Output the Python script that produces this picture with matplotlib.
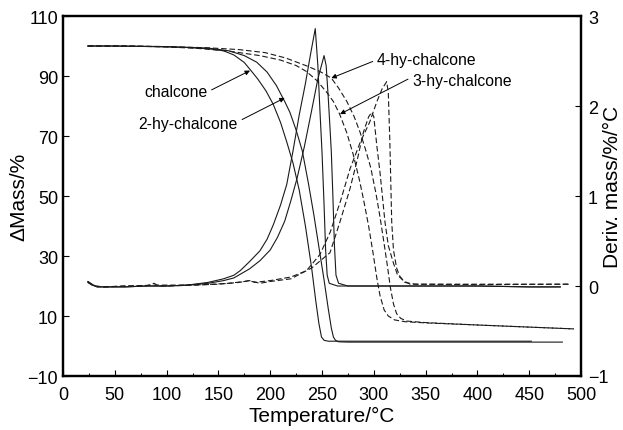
#!/usr/bin/env python3
"""
TGA / DTG curves of chalcone and hydroxy-chalcones.

Left axis: mass loss (%), right axis: derivative mass (%/°C).
"""

import matplotlib.pyplot as plt
from matplotlib.ticker import MultipleLocator

OUTPUT_PATH = "out.png"

# --- data -------------------------------------------------------------------

# chalcone (solid)
CHAL_MASS_T = [24, 40, 70, 100, 120, 140, 155, 165, 175, 181, 188, 196, 203, 210, 216,
               222, 228, 234, 240, 244, 247, 249.5, 252, 256, 270, 300, 350, 400, 452]
CHAL_MASS = [100, 100, 99.9, 99.7, 99.5, 99.1, 98.4, 97.0, 94.5, 92.0, 89.0, 85.0, 80.5,
             74.5, 68.0, 61.0, 52.0, 40.0, 26.0, 15.0, 7.5, 3.0, 1.9, 1.6, 1.6, 1.6, 1.6, 1.6, 1.6]
CHAL_DERIV_T = [24, 28, 33, 40, 60, 80, 100, 120, 140, 155, 165, 171, 180, 190, 197, 203,
                210, 216, 222, 228, 234, 239, 243.5, 246, 248, 250, 252, 253.5, 255, 257,
                265, 300, 350, 400, 450, 480]
CHAL_DERIV = [0.05, 0.02, -0.01, -0.01, -0.01, 0.0, 0.0, 0.01, 0.04, 0.08, 0.12, 0.17, 0.27,
              0.39, 0.52, 0.68, 0.90, 1.13, 1.50, 1.90, 2.25, 2.58, 2.86, 2.45, 1.95, 1.49,
              0.90, 0.40, 0.12, 0.03, 0.0, 0.0, 0.0, 0.0, -0.01, -0.01]

# 2-hy-chalcone (solid)
HY2_MASS_T = [24, 50, 100, 140, 160, 175, 187, 197, 206, 214, 219, 225, 231, 237, 242, 247,
              252, 256, 259, 261, 263, 266, 275, 300, 350, 400, 482]
HY2_MASS = [100, 100, 99.8, 99.3, 98.4, 96.8, 94.6, 91.3, 86.8, 81.5, 77.9, 72.0, 65.0, 54.0,
            44.0, 33.0, 22.0, 12.5, 6.0, 3.0, 1.9, 1.4, 1.3, 1.3, 1.3, 1.3, 1.3]
HY2_DERIV_T = [24, 28, 33, 40, 60, 80, 100, 120, 140, 155, 165, 171, 180, 190, 200, 207, 214,
               220, 226, 233, 240, 246, 252, 254, 256, 258, 259, 260.5, 262, 263.5, 266, 275,
               300, 350, 400, 450, 480]
HY2_DERIV = [0.04, 0.01, -0.01, -0.01, -0.01, 0.0, 0.0, 0.01, 0.03, 0.06, 0.09, 0.13, 0.19,
             0.28, 0.40, 0.54, 0.72, 0.95, 1.20, 1.55, 1.95, 2.30, 2.56, 2.45, 2.10, 1.70, 1.49,
             1.00, 0.45, 0.12, 0.03, 0.0, 0.0, 0.0, 0.0, -0.01, -0.01]

# 4-hy-chalcone (dashed)
HY4_MASS_T = [24, 60, 100, 140, 170, 195, 215, 235, 248, 259, 266, 274, 281, 287, 292, 297,
              302, 306, 310, 313, 316, 319, 322, 326, 332, 350, 400, 450, 493]
HY4_MASS = [100, 100, 99.8, 99.4, 98.8, 97.8, 96.0, 93.4, 91.5, 89.3, 86.0, 81.5, 76.5, 71.0,
            65.5, 59.5, 51.0, 43.0, 34.0, 27.0, 19.5, 14.0, 10.8, 9.2, 8.3, 7.8, 7.0, 6.3, 5.7]
HY4_DERIV_T = [24, 30, 40, 60, 80, 88, 92, 100, 130, 160, 175, 180, 185, 200, 220, 235, 248,
               258, 268, 277, 287, 296, 303, 308, 312.4, 314, 315.5, 317.3, 319, 322, 325, 330,
               340, 400, 489]
HY4_DERIV = [0.05, 0.0, -0.01, 0.0, 0.0, 0.03, 0.0, 0.0, 0.01, 0.03, 0.05, 0.06, 0.04, 0.06,
             0.10, 0.17, 0.35, 0.60, 0.95, 1.30, 1.60, 1.82, 2.05, 2.19, 2.27, 2.15, 1.60, 0.71,
             0.40, 0.20, 0.11, 0.04, 0.02, 0.015, 0.02]

# 3-hy-chalcone (dashed)
HY3_MASS_T = [24, 60, 100, 130, 160, 190, 210, 225, 235, 245, 254.5, 261, 267, 274, 280, 286,
              290, 295, 299.5, 303, 306, 310, 314, 320, 330, 350, 400, 450, 493]
HY3_MASS = [100, 100, 99.7, 99.2, 98.3, 96.8, 95.3, 93.5, 91.5, 88.5, 84.6, 81.5, 77.3, 71.0,
            64.0, 55.5, 49.0, 40.0, 30.5, 22.5, 16.8, 12.0, 10.0, 8.7, 8.1, 7.7, 7.0, 6.3, 5.7]
HY3_DERIV_T = [24, 30, 40, 60, 90, 120, 150, 170, 180, 190, 200, 220, 240, 257.7, 267, 277,
               284, 290, 295, 298, 300, 303, 306, 310.8, 314, 318.8, 323, 328.5, 335, 400, 489]
HY3_DERIV = [0.04, 0.0, -0.01, 0.0, 0.01, 0.01, 0.02, 0.04, 0.06, 0.03, 0.05, 0.08, 0.20, 0.37,
             0.70, 1.08, 1.40, 1.71, 1.88, 1.93, 1.88, 1.55, 1.26, 0.71, 0.45, 0.26, 0.12, 0.06,
             0.02, 0.02, 0.02]

# annotations: label, text position (T, mass), arrow tip (T, mass), arrow start on text
LABELS = ["chalcone", "2-hy-chalcone", "4-hy-chalcone", "3-hy-chalcone"]
LABEL_XY = [(109, 84.7), (121, 74.3), (351, 95.4), (385, 88.4)]
ARROW_TIP = [(180.5, 91.8), (214, 82.7), (259, 89.3), (267.4, 77.3)]
ARROW_REL = [(1.0, 0.5), (1.0, 0.6), (0.0, 0.5), (0.0, 0.75)]

LINE_COLOR = '#1a1a1a'
DASH = (0, (5, 2.5))


def main():
    plt.rcParams['font.family'] = ['Liberation Sans', 'DejaVu Sans']

    fig = plt.figure(figsize=(6.23, 4.31), dpi=100)
    ax = fig.add_axes([63 / 623, 1 - 377 / 431, 518 / 623, 360 / 431])
    ax2 = ax.twinx()

    # mass curves
    ax.plot(CHAL_MASS_T, CHAL_MASS, color=LINE_COLOR, lw=0.8)
    ax.plot(HY2_MASS_T, HY2_MASS, color=LINE_COLOR, lw=0.8)
    ax.plot(HY4_MASS_T, HY4_MASS, color=LINE_COLOR, lw=0.8, ls=DASH)
    ax.plot(HY3_MASS_T, HY3_MASS, color=LINE_COLOR, lw=0.8, ls=DASH)

    # derivative curves
    ax2.plot(CHAL_DERIV_T, CHAL_DERIV, color=LINE_COLOR, lw=0.8)
    ax2.plot(HY2_DERIV_T, HY2_DERIV, color=LINE_COLOR, lw=0.8)
    ax2.plot(HY4_DERIV_T, HY4_DERIV, color=LINE_COLOR, lw=0.8, ls=DASH)
    ax2.plot(HY3_DERIV_T, HY3_DERIV, color=LINE_COLOR, lw=0.8, ls=DASH)

    # labels with arrows
    for label, xy_text, tip, rel in zip(LABELS, LABEL_XY, ARROW_TIP, ARROW_REL):
        ax.annotate(label, xy=tip, xytext=xy_text, ha='center', va='center', fontsize=11.3,
                    arrowprops=dict(arrowstyle='-|>', color='k', lw=0.7, mutation_scale=7,
                                    shrinkA=1, shrinkB=0, relpos=rel))

    ax.set_xlim(0, 500)
    ax.set_ylim(-10, 110)
    ax2.set_ylim(-1, 3)

    ax.xaxis.set_major_locator(MultipleLocator(50))
    ax.xaxis.set_minor_locator(MultipleLocator(25))
    ax2.yaxis.set_major_locator(MultipleLocator(1))
    ax.set_yticks(range(-10, 111, 20))

    ax.tick_params(axis='both', which='major', direction='in', length=4, width=0.8,
                   labelsize=13, top=False)
    ax.tick_params(axis='x', which='major', pad=7)
    ax.tick_params(axis='x', which='minor', direction='in', length=2.5, width=0.7, top=False)
    ax2.tick_params(axis='y', which='major', direction='in', length=4, width=0.8,
                    labelsize=13, pad=5)

    for a in (ax, ax2):
        for spine in a.spines.values():
            spine.set_linewidth(1.6)

    ax.set_xlabel('Temperature/°C', fontsize=15)
    ax.xaxis.set_label_coords(0.5, -(416 - 377) / 360)
    ax.xaxis.label.set_va('center')

    ax.set_ylabel('ΔMass/%', fontsize=15)
    ax.yaxis.set_label_coords(-(63 - 19) / 518, 0.5)
    ax.yaxis.label.set_va('center')

    ax2.set_ylabel('Deriv. mass/%/°C', fontsize=15)
    ax2.yaxis.set_label_coords((612 - 63) / 518, (377 - 187) / 360)
    ax2.yaxis.label.set_va('center')

    fig.savefig(OUTPUT_PATH, dpi=100)


if __name__ == '__main__':
    main()
